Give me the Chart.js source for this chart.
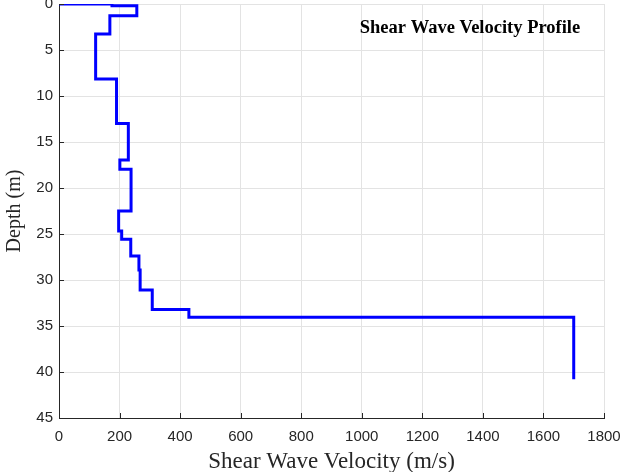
<!DOCTYPE html>
<html>
<head>
<meta charset="utf-8">
<script src="https://cdn.jsdelivr.net/npm/chart.js@4"></script>
<style>
  html, body { margin: 0; padding: 0; background: #fff; }
  #wrap { width: 625px; height: 472px; }
</style>
</head>
<body>
<div id="wrap"><canvas id="vs-chart"></canvas></div>
<script>

    // layer boundaries (m) and shear wave velocity of each layer (m/s)
    var depth_bounds = [0, 0.2, 1.27, 3.26, 8.15, 13.0, 16.96, 17.97, 22.5, 24.67, 25.58, 27.4, 28.9, 31.1, 33.2, 34.05, 40.8];
    var layer_velocity = [175, 257, 168, 121, 190, 229, 201, 238, 197, 207, 237, 264, 268, 308, 429, 1700];
    var start_point = {x: 0, y: 0};

    var x_ticks = [0, 200, 400, 600, 800, 1000, 1200, 1400, 1600, 1800];
    var y_ticks = [0, 5, 10, 15, 20, 25, 30, 35, 40, 45];

    // step profile
    var profile = [start_point];
    for (var i = 0; i < layer_velocity.length; i++) {
        profile.push({x: layer_velocity[i], y: depth_bounds[i]});
        profile.push({x: layer_velocity[i], y: depth_bounds[i + 1]});
    }

    var axis_color = '#262626';
    var tick_font = {family: '"Liberation Sans", Arial, sans-serif', size: 15};

    // small tick marks pointing into the plot, like matlab
    var inner_ticks = {
        id: 'inner_ticks',
        afterDraw: function(chart) {
            var ctx = chart.ctx, a = chart.chartArea;
            var xs = chart.scales.x, ys = chart.scales.y;
            ctx.save();
            ctx.strokeStyle = axis_color;
            ctx.lineWidth = 1;
            ctx.beginPath();
            x_ticks.forEach(function(v) {
                var px = Math.round(xs.getPixelForValue(v)) + 0.5;
                ctx.moveTo(px, a.bottom);
                ctx.lineTo(px, a.bottom - 5);
            });
            y_ticks.forEach(function(v) {
                var py = Math.round(ys.getPixelForValue(v)) + 0.5;
                ctx.moveTo(a.left, py);
                ctx.lineTo(a.left + 5, py);
            });
            ctx.stroke();
            ctx.fillStyle = '#000';
            ctx.font = 'bold 18.5px "Liberation Serif", "Times New Roman", serif';
            ctx.textAlign = 'center';
            ctx.textBaseline = 'middle';
            ctx.fillText('Shear Wave Velocity Profile', 470, 28);
            ctx.restore();
        }
    };

    var vs_profile = {
        type: 'scatter',
        data: {
            datasets: [{
                data: profile,
                showLine: true,
                borderColor: '#0000FF',
                backgroundColor: '#0000FF',
                borderWidth: 3,
                pointRadius: 0,
                fill: false,
                tension: 0
            }]
        },
        options: {
            responsive: true,
            maintainAspectRatio: false,
            animation: false,
            layout: {
                autoPadding: false,
                padding: {left: 0, top: 4, right: 21, bottom: 0}
            },
            plugins: {
                legend: {display: false},
                tooltip: {enabled: false}
            },
            scales: {
                x: {
                    type: 'linear',
                    min: 0,
                    max: 1800,
                    afterBuildTicks: function(s) { s.ticks = x_ticks.map(function(v) { return {value: v}; }); },
                    afterFit: function(s) { s.height = 54; s.paddingLeft = 0; s.paddingRight = 0; },
                    grid: {color: '#e3e3e3', drawTicks: false},
                    border: {color: axis_color, width: 1},
                    ticks: {color: axis_color, font: tick_font, padding: 10, maxRotation: 0,
                            callback: function(v) { return String(v); }},
                    title: {display: true, text: 'Shear Wave Velocity (m/s)', color: axis_color,
                            font: {family: '"Liberation Serif", "Times New Roman", serif', size: 23},
                            padding: {top: 0, bottom: -4}}
                },
                y: {
                    type: 'linear',
                    reverse: true,
                    min: 0,
                    max: 45,
                    afterBuildTicks: function(s) { s.ticks = y_ticks.map(function(v) { return {value: v}; }); },
                    afterFit: function(s) { s.width = 59; s.paddingTop = 0; s.paddingBottom = 0; },
                    grid: {color: '#e3e3e3', drawTicks: false},
                    border: {color: axis_color, width: 1},
                    ticks: {color: axis_color, font: tick_font, padding: 6,
                            callback: function(v) { return String(v); }},
                    title: {display: true, text: 'Depth (m)', color: axis_color,
                            font: {family: '"Liberation Serif", "Times New Roman", serif', size: 20},
                            padding: {top: 3, bottom: 4}}
                }
            }
        },
        plugins: [inner_ticks]
    };

    window.onload = function() {
        var ctx = document.getElementById('vs-chart').getContext('2d');
        window.vsChart = new Chart(ctx, vs_profile);
    };

</script>
</body>
</html>
